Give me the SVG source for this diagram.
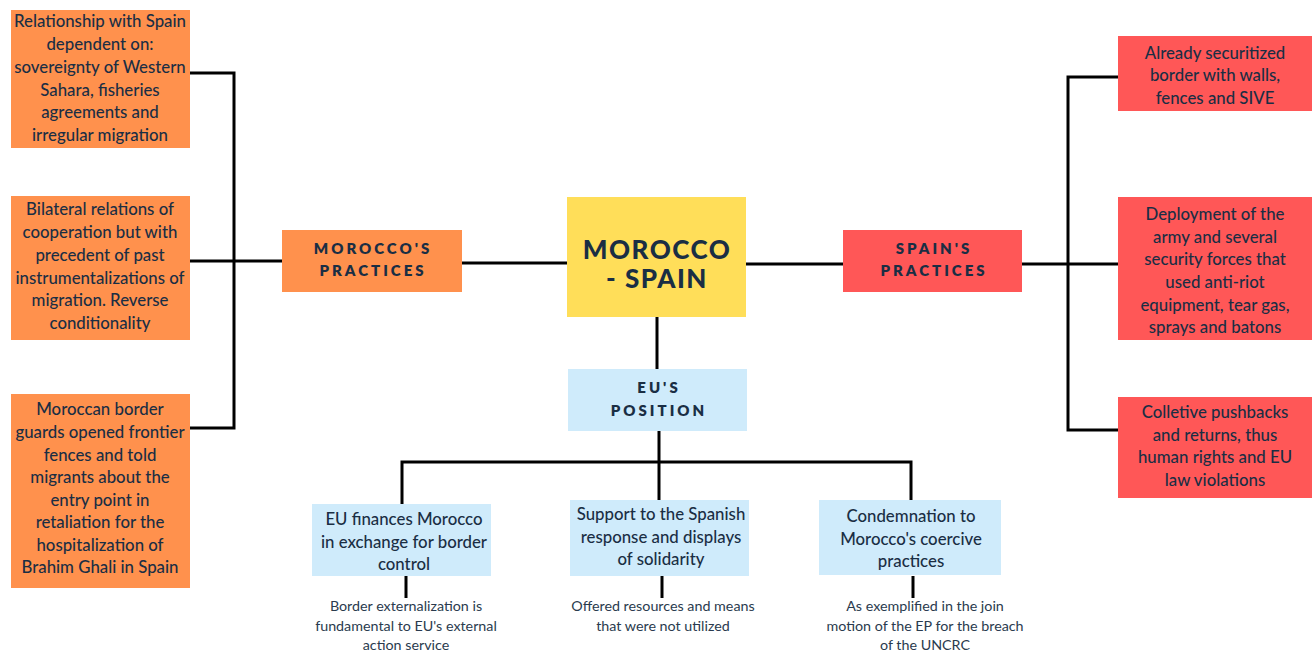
<svg xmlns="http://www.w3.org/2000/svg" width="1312" height="653" viewBox="0 0 1312 653">
<style>
.o{fill:#FF914D}.r{fill:#FF5757}.y{fill:#FFDE59}.b{fill:#CFEBFB}
text{font-family:Lato,"Noto Sans",sans-serif;fill:#1A2E44;text-anchor:middle}
.t{font-size:16.8px;font-weight:500}
.h{font-size:15px;font-weight:800;letter-spacing:3px}
.c{font-size:14.3px;fill:#2A3B4E}
.m{font-size:26px;font-weight:900;letter-spacing:1.5px}
.ln{stroke:#000;stroke-width:3;fill:none}
</style>
<rect width="1312" height="653" fill="#fff"/>
<g id="connectors" class="ln">
<path d="M190 73H234V428H190"/>
<path d="M190 261H282"/>
<path d="M462 263H567"/>
<path d="M746 264H843"/>
<path d="M1022 264H1118"/>
<path d="M1118 77H1068V430H1118"/>
<path d="M657 317V369"/>
<path d="M659 431V500"/>
<path d="M402 504V462H911V500"/>
<path d="M406 576V598"/>
<path d="M662 572V598"/>
<path d="M913 576V598"/>
</g>
<g id="n-rel"><rect class="o" x="11" y="10" width="179" height="138"/>
<text class="t"><tspan x="100" y="27">Relationship with Spain</tspan><tspan x="100" y="50">dependent on:</tspan><tspan x="100" y="73">sovereignty of Western</tspan><tspan x="100" y="96">Sahara, fisheries</tspan><tspan x="100" y="118">agreements and</tspan><tspan x="100" y="141">irregular migration</tspan></text></g>
<g id="n-bil"><rect class="o" x="11" y="196" width="179" height="144"/>
<text class="t"><tspan x="100" y="215">Bilateral relations of</tspan><tspan x="100" y="238">cooperation but with</tspan><tspan x="100" y="261">precedent of past</tspan><tspan x="100" y="284">instrumentalizations of</tspan><tspan x="100" y="306">migration. Reverse</tspan><tspan x="100" y="329">conditionality</tspan></text></g>
<g id="n-guards"><rect class="o" x="11" y="394" width="179" height="194"/>
<text class="t"><tspan x="100" y="415">Moroccan border</tspan><tspan x="100" y="438">guards opened frontier</tspan><tspan x="100" y="461">fences and told</tspan><tspan x="100" y="483">migrants about the</tspan><tspan x="100" y="506">entry point in</tspan><tspan x="100" y="528">retaliation for the</tspan><tspan x="100" y="551">hospitalization of</tspan><tspan x="100" y="573">Brahim Ghali in Spain</tspan></text></g>
<g id="n-mp"><rect class="o" x="282" y="230" width="180" height="62"/>
<text class="h"><tspan x="373" y="254">MOROCCO'S</tspan><tspan x="373" y="276">PRACTICES</tspan></text></g>
<g id="n-center"><rect class="y" x="567" y="197" width="179" height="120"/>
<text class="m"><tspan x="657" y="259">MOROCCO</tspan><tspan x="657" y="288">- SPAIN</tspan></text></g>
<g id="n-sp"><rect class="r" x="843" y="230" width="179" height="62"/>
<text class="h"><tspan x="934" y="254">SPAIN'S</tspan><tspan x="934" y="276">PRACTICES</tspan></text></g>
<g id="n-sec"><rect class="r" x="1118" y="36" width="194" height="75"/>
<text class="t"><tspan x="1215" y="59">Already securitized</tspan><tspan x="1215" y="81">border with walls,</tspan><tspan x="1215" y="104">fences and SIVE</tspan></text></g>
<g id="n-army"><rect class="r" x="1118" y="197" width="194" height="143"/>
<text class="t"><tspan x="1215" y="220">Deployment of the</tspan><tspan x="1215" y="243">army and several</tspan><tspan x="1215" y="265">security forces that</tspan><tspan x="1215" y="288">used anti-riot</tspan><tspan x="1215" y="311">equipment, tear gas,</tspan><tspan x="1215" y="333">sprays and batons</tspan></text></g>
<g id="n-push"><rect class="r" x="1118" y="397" width="194" height="101"/>
<text class="t"><tspan x="1215" y="418">Colletive pushbacks</tspan><tspan x="1215" y="441">and returns, thus</tspan><tspan x="1215" y="463">human rights and EU</tspan><tspan x="1215" y="486">law violations</tspan></text></g>
<g id="n-eu"><rect class="b" x="568" y="369" width="179" height="62"/>
<text class="h"><tspan x="659" y="393">EU'S</tspan><tspan x="659" y="416">POSITION</tspan></text></g>
<g id="n-fin"><rect class="b" x="312" y="504" width="179" height="72"/>
<text class="t"><tspan x="404" y="525">EU finances Morocco</tspan><tspan x="404" y="548">in exchange for border</tspan><tspan x="404" y="570">control</tspan></text>
<text class="c"><tspan x="406" y="611">Border externalization is</tspan><tspan x="406" y="631">fundamental to EU's external</tspan><tspan x="406" y="650">action service</tspan></text></g>
<g id="n-sup"><rect class="b" x="570" y="500" width="179" height="76"/>
<text class="t"><tspan x="661" y="520">Support to the Spanish</tspan><tspan x="661" y="543">response and displays</tspan><tspan x="661" y="565">of solidarity</tspan></text>
<text class="c"><tspan x="663" y="611">Offered resources and means</tspan><tspan x="663" y="631">that were not utilized</tspan></text></g>
<g id="n-con"><rect class="b" x="819" y="500" width="182" height="75"/>
<text class="t"><tspan x="911" y="522">Condemnation to</tspan><tspan x="911" y="545">Morocco's coercive</tspan><tspan x="911" y="567">practices</tspan></text>
<text class="c"><tspan x="925" y="611">As exemplified in the join</tspan><tspan x="925" y="631">motion of the EP for the breach</tspan><tspan x="925" y="650">of the UNCRC</tspan></text></g>
</svg>
